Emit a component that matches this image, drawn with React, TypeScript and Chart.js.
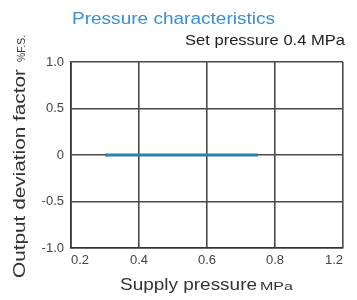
import React, { useEffect, useRef } from "react";
import { Chart, registerables } from "chart.js";

Chart.register(...registerables);

const xTickLabels = ["0.2", "0.4", "0.6", "0.8", "1.2"];
const xTickValues = [0.2, 0.4, 0.6, 0.8, 1.2];
const yTickLabels = ["-1.0", "-0.5", "0", "0.5", "1.0"];
const supplyPressure = [0.3, 0.4, 0.5, 0.6, 0.75];
const deviation = [0, 0, 0, 0, 0];

const FONT = "'Liberation Sans', Arial, sans-serif";

// map a pressure onto the chart's evenly spaced tick positions
function toPos(p: number): number {
  for (let i = 0; i < xTickValues.length - 1; i++) {
    const a = xTickValues[i], b = xTickValues[i + 1];
    if (p <= b || i === xTickValues.length - 2) return i + (p - a) / (b - a);
  }
  return 0;
}

// draw text starting at x (left), horizontally scaled to a target width
function fitText(ctx: any, text: string, x: number, y: number, size: number, width: number) {
  ctx.font = `${size}px ${FONT}`;
  const w = ctx.measureText(text).width;
  ctx.save();
  ctx.translate(x, y);
  ctx.scale(width / w, 1);
  ctx.textAlign = "left";
  ctx.fillText(text, 0, 0);
  ctx.restore();
}

const textPlugin = {
  id: "texts",
  afterDraw(chart: any) {
    const ctx = chart.ctx;
    ctx.save();
    ctx.textBaseline = "alphabetic";
    ctx.fillStyle = "#3a8fd0";
    fitText(ctx, "Pressure characteristics", 72, 24, 16, 203);
    ctx.fillStyle = "#222";
    fitText(ctx, "Set pressure 0.4 MPa", 185, 45, 14.5, 160);
    ctx.fillStyle = "#333";
    fitText(ctx, "Supply pressure", 120, 290, 16.5, 137);
    fitText(ctx, "MPa", 260, 290, 11.5, 33);
    ctx.translate(25, 0);
    ctx.rotate(-Math.PI / 2);
    fitText(ctx, "Output deviation factor", -278, 0, 17, 209);
    fitText(ctx, "%F.S.", -62, 0, 11, 27);
    ctx.restore();
  },
};

export default function App() {
  const ref = useRef<HTMLCanvasElement>(null);
  useEffect(() => {
    document.body.style.margin = "0";
    const chart = new Chart(ref.current!, {
      type: "line",
      data: {
        datasets: [
          {
            data: supplyPressure.map((p, i) => ({ x: toPos(p), y: deviation[i] })),
            borderColor: "#2a7fb5",
            borderWidth: 3,
            pointRadius: 0,
            fill: false,
          },
        ],
      },
      options: {
        animation: false,
        responsive: false,
        layout: { padding: { left: 0, right: 14, top: 62, bottom: 0 } },
        plugins: { legend: { display: false }, tooltip: { enabled: false } },
        scales: {
          x: {
            type: "linear",
            min: 0,
            max: xTickLabels.length - 1,
            afterFit: (s: any) => { s.height = 52; },
            afterBuildTicks: (s: any) => {
              s.ticks = xTickLabels.map((_, i) => ({ value: i }));
            },
            ticks: {
              callback: (v: any) => xTickLabels[Math.round(Number(v))],
              color: "#444",
              font: { family: FONT, size: 13 },
              padding: 5,
              align: "inner",
              maxRotation: 0,
              autoSkip: false,
            },
            grid: { color: "#4a4a4a", lineWidth: 1.6, drawTicks: false },
            border: { color: "#333", width: 1.6 },
          },
          y: {
            type: "linear",
            min: -1,
            max: 1,
            afterFit: (s: any) => { s.width = 71; },
            afterBuildTicks: (s: any) => {
              s.ticks = yTickLabels.map((l) => ({ value: parseFloat(l) }));
            },
            ticks: {
              callback: (v: any) => yTickLabels[Math.round((Number(v) + 1) * 2)],
              color: "#444",
              font: { family: FONT, size: 13 },
              padding: 7,
              autoSkip: false,
            },
            grid: { color: "#4a4a4a", lineWidth: 1.6, drawTicks: false },
            border: { color: "#333", width: 1.6 },
          },
        },
      },
      plugins: [textPlugin],
    });
    return () => chart.destroy();
  }, []);
  return <canvas ref={ref} width={357} height={300} style={{ display: "block" }} />;
}
